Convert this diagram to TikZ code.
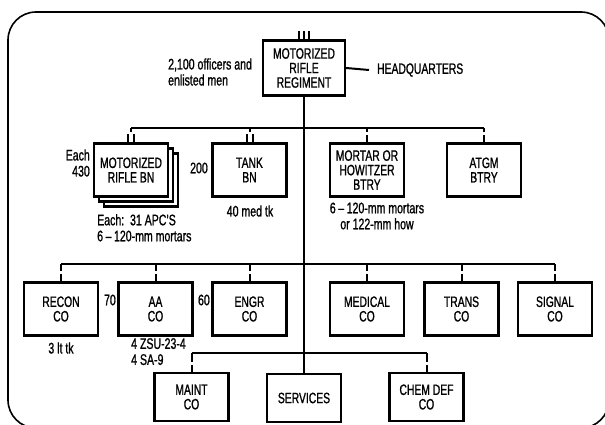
\documentclass[tikz,border=0pt]{standalone}
\usepackage{fontspec}
\setmainfont[FakeStretch=0.69,FakeBold=1]{Liberation Sans}
\begin{document}
\begin{tikzpicture}[x=1pt,y=-1pt,
  box/.style={draw, line width=2.3pt, fill=white, minimum width=74pt, minimum height=53pt, align=center, inner sep=0pt, font=\fontsize{15}{14.5}\selectfont},
  conn/.style={line width=2pt},
  note/.style={font=\fontsize{15.3}{16}\selectfont, inner sep=0pt, align=left}]
\useasboundingbox (0,0) rectangle (605,425);
\begin{scope}
\clip (0,0) rectangle (605,425);
\draw[line width=1.6pt, rounded corners=28pt] (8,12) rectangle (609,428);
\end{scope}
% top
\node[box, minimum width=82pt, minimum height=55pt] (reg) at (304,68) {MOTORIZED\\RIFLE\\REGIMENT};
\draw[conn] ([xshift=-5pt]reg.north) -- ++(0,-8);
\draw[conn] (reg.north) -- ++(0,-8);
\draw[conn] ([xshift=5pt]reg.north) -- ++(0,-8);
\node[box, draw=none, fill=none, anchor=west, minimum width=0pt, minimum height=0pt] (hqt) at (376,70) {HEADQUARTERS};
\draw[conn] (reg.east) -- ([xshift=-7pt]hqt.west);
\node[note, anchor=west] (men) at (168,72) {2,100 officers and\\enlisted men};
% row 1
\node[box] (mr3) at (141,180) {};
\node[box] (mr2) at (136,175) {};
\node[box] (mr) at (131,170) {MOTORIZED\\RIFLE BN};
\node[box] (tank) at (249.5,170) {TANK\\BN};
\node[box] (mort) at (367,170) {MORTAR OR\\HOWITZER\\BTRY};
\node[box] (atgm) at (484,170) {ATGM\\BTRY};
% row 2
\node[box] (recon) at (61,309) {RECON\\CO};
\node[box] (aa) at (155.5,309) {AA\\CO};
\node[box] (engr) at (249.5,309) {ENGR\\CO};
\node[box] (med) at (367,309) {MEDICAL\\CO};
\node[box] (trans) at (461.5,309) {TRANS\\CO};
\node[box] (sig) at (555,309) {SIGNAL\\CO};
% row 3
\node[box, minimum height=48pt] (maint) at (191.5,397) {MAINT\\CO};
\node[box, minimum height=48pt] (serv) at (304,398) {SERVICES};
\node[box, minimum height=48pt] (chem) at (426.5,397) {CHEM DEF\\CO};
% buses
\coordinate (b1) at (304,128);
\coordinate (b2) at (304,264);
\coordinate (b3) at (304,353);
\draw[conn] (reg.south) -- (serv.north);
\draw[conn] (mr.north |- b1) -- (atgm.north |- b1);
\draw[conn] (recon.north |- b2) -- (sig.north |- b2);
\draw[conn] (maint.north |- b3) -- (chem.north |- b3);
% double ticks (battalions)
\foreach \n in {mr,tank}{
  \draw[conn] (\n.north |- b1) -- ([yshift=10pt]\n.north);
  \draw[conn] ([xshift=-3pt]\n.north) -- ++(0,-8);
  \draw[conn] ([xshift=3pt]\n.north) -- ++(0,-8);
}
% single ticks
\foreach \n in {mort,atgm}{
  \draw[conn] (\n.north |- b1) -- ([yshift=10pt]\n.north);
  \draw[conn] (\n.north) -- ++(0,-7);
}
\foreach \n in {recon,aa,engr,med,trans,sig}{
  \draw[conn] (\n.north |- b2) -- ([yshift=10pt]\n.north);
  \draw[conn] (\n.north) -- ++(0,-7);
}
\foreach \n in {maint,chem}{
  \draw[conn] (\n.north |- b3) -- ([yshift=10pt]\n.north);
  \draw[conn] (\n.north) -- ++(0,-7);
}
% notes
\node[note, anchor=east, align=right] (each) at (90,163) {Each\\430};
\node[note, anchor=east] (n200) at (208,168) {200};
\node[note] (medtk) at (250,211) {40 med tk};
\node[note, anchor=north west] (apc) at (97,214) {Each:\ \ 31 APC'S\\6\,--\,120-mm mortars};
\node[note, align=center] (mortn) at (377,216) {6\,--\,120-mm mortars\\or 122-mm how};
\node[note, anchor=east] (n70) at (116,300) {70};
\node[note, anchor=east] (n60) at (210,300) {60};
\node[note] (lttk) at (61,348) {3 lt tk};
\node[note, anchor=north west] (zsu) at (131,338) {4 ZSU-23-4\\4 SA-9};
\end{tikzpicture}
\end{document}
